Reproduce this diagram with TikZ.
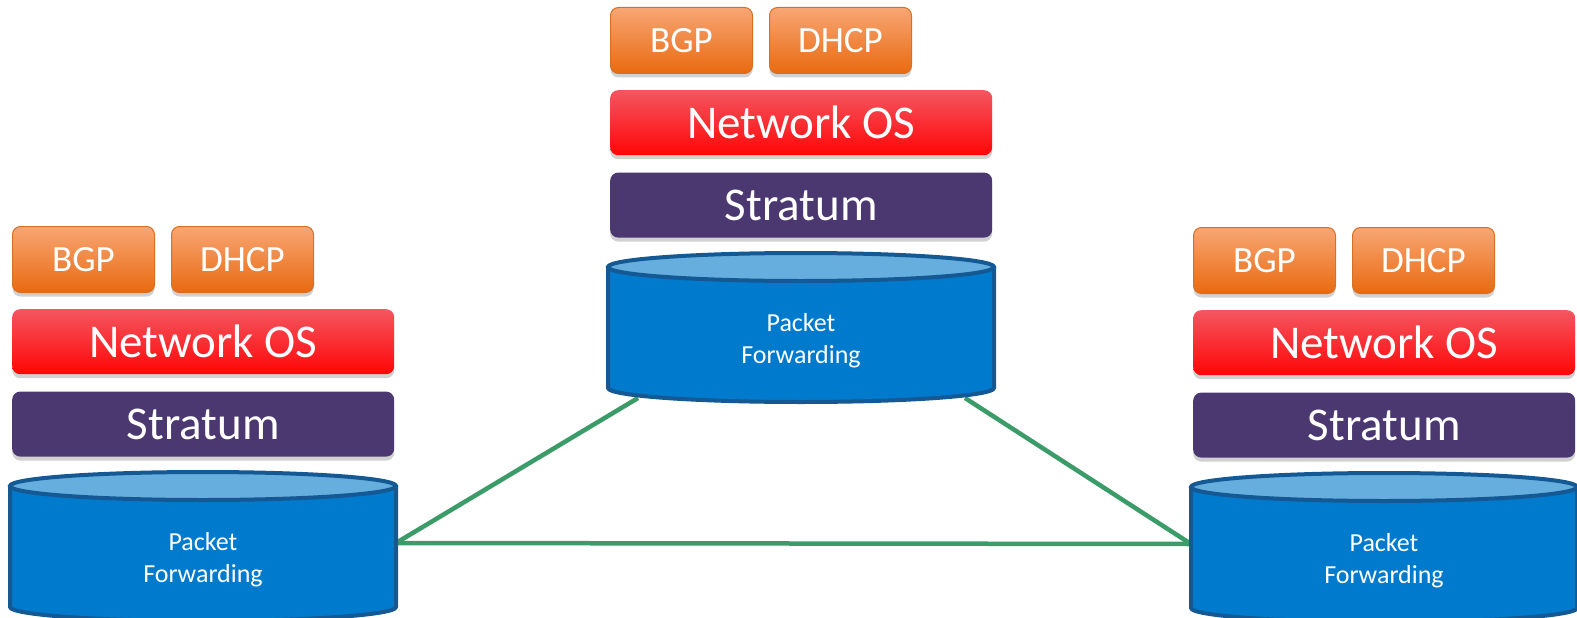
\documentclass[tikz,border=0pt]{standalone}
\usepackage{fontspec}
\setmainfont{Carlito}
\usetikzlibrary{positioning,backgrounds,shadows}

\definecolor{appTop}{RGB}{248,166,116}
\definecolor{appBot}{RGB}{232,106,16}
\definecolor{appLine}{RGB}{214,112,34}
\definecolor{osTop}{RGB}{244,86,96}
\definecolor{osBot}{RGB}{255,6,6}
\definecolor{stratum}{RGB}{76,56,112}
\definecolor{pfBody}{RGB}{0,122,204}
\definecolor{pfTop}{RGB}{102,174,222}
\definecolor{pfLine}{RGB}{20,88,148}
\definecolor{link}{RGB}{59,156,105}

\tikzset{
  boxshadow/.style={drop shadow={shadow xshift=0pt, shadow yshift=-4pt, opacity=.18, fill=black}},
  appbox/.style={boxshadow, rounded corners=8pt, draw=appLine, line width=1pt,
    top color=appTop, bottom color=appBot, text=white,
    minimum width=142pt, minimum height=66pt, inner sep=0pt,
    font=\fontsize{37}{40}\selectfont},
  osbox/.style={boxshadow, rounded corners=8pt, draw=none,
    top color=osTop, bottom color=osBot, text=white,
    minimum width=382pt, minimum height=65pt, inner sep=0pt,
    font=\fontsize{47}{50}\selectfont},
  stratbox/.style={boxshadow, rounded corners=8pt, draw=none, fill=stratum, text=white,
    minimum width=382pt, minimum height=65pt, inner sep=0pt,
    font=\fontsize{47}{50}\selectfont},
  pfside/.style={fill=pfBody, draw=pfLine, line width=4pt, line join=round},
  pftop/.style={fill=pfTop, draw=pfLine, line width=4pt},
  pflabel/.style={text=white, align=center, inner sep=0pt,
    font=\fontsize{26}{32}\selectfont},
  link/.style={draw=link, line width=4.5pt}
}

\begin{document}
\begin{tikzpicture}[x=1pt, y=-1pt]

	\useasboundingbox (0,0) rectangle (1577,618);

	% one switch stack per position: name / left / top
	\foreach \n/\X/\Y in {L/12/226, C/610/7, R/1193/227} {

		% application boxes
		\node[appbox, anchor=north west] (bgp\n) at (\X,\Y) {BGP};
		\node[appbox, right=16pt of bgp\n] (dhcp\n) {DHCP};

		% layers
		\node[osbox, below=16pt of bgp\n.south west, anchor=north west] (nos\n) {Network OS};
		\node[stratbox, below=17pt of nos\n.south west, anchor=north west] (str\n) {Stratum};

		% forwarding plane cylinder
		\path[pfside] ({\X-2},{\Y+260}) -- ({\X-2},{\Y+381})
			arc[start angle=180, end angle=0, x radius=193, y radius=14]
			-- ({\X+384},{\Y+260}) -- cycle;
		\path[pftop] ({\X+191},{\Y+260}) ellipse [x radius=193, y radius=14];
		\node[pflabel] (pf\n) at ({\X+191},{\Y+334}) {Packet\\Forwarding};

		% link ends
		\coordinate (e\n) at ({\X+384},{\Y+317});
		\coordinate (w\n) at ({\X-2},{\Y+317});
		\coordinate (bl\n) at ({\X+28},{\Y+391});
		\coordinate (br\n) at ({\X+355},{\Y+391});
	}

	% links between switches
	\begin{scope}[on background layer]
		\draw[link] (eL) -- (blC);
		\draw[link] (brC) -- (wR);
		\draw[link] (eL) -- (wR);
	\end{scope}

\end{tikzpicture}
\end{document}
